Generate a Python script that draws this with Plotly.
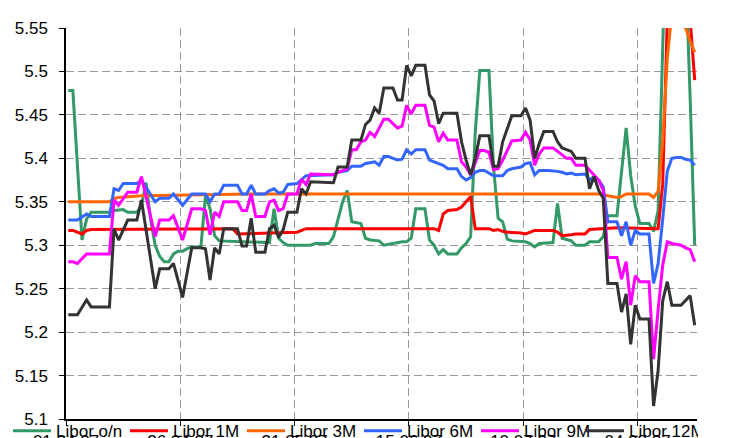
import pandas as pd
import plotly.graph_objects as go

START = pd.Timestamp("2007-04-01")

# Day offsets (days after 01.04.07) and rates in %
on_days = [0, 1, 3, 4, 5, 9, 10, 12, 13, 15, 16, 17, 18, 19, 20, 21, 22, 23, 24, 25, 26, 27, 29, 30, 31, 32, 33, 37,
           44, 45, 46, 47, 48, 53, 54, 57, 58, 59, 60, 61, 62, 64, 65, 66, 68, 69, 71, 73, 74, 75, 76, 78, 79, 80,
           81, 82, 83, 85, 86, 87, 88, 89, 90, 92, 93, 94, 95, 96, 97, 100, 101, 102, 103, 106, 107, 108, 110, 111,
           113, 114, 116, 117, 118, 120, 122, 123, 124, 125, 127, 128, 129, 130, 131, 132, 133, 134, 135, 136, 137]
on_vals = [5.478, 5.478, 5.306, 5.33, 5.338, 5.338, 5.34, 5.341, 5.338, 5.338, 5.345, 5.372, 5.33, 5.30, 5.287,
           5.281, 5.281, 5.29, 5.293, 5.293, 5.296, 5.298, 5.298, 5.357, 5.342, 5.311, 5.305, 5.304,
           5.303, 5.342, 5.308, 5.303, 5.30, 5.30, 5.302, 5.302, 5.31, 5.33, 5.35, 5.363, 5.327, 5.325, 5.308,
           5.306, 5.305, 5.30, 5.302, 5.304, 5.304, 5.308, 5.342, 5.342, 5.306, 5.30,
           5.29, 5.295, 5.29, 5.29, 5.297, 5.302, 5.31, 5.43, 5.501, 5.501, 5.39, 5.331, 5.327, 5.307, 5.305,
           5.304, 5.302, 5.298, 5.302, 5.303, 5.348, 5.308, 5.305, 5.30,
           5.30, 5.304, 5.304, 5.31, 5.334, 5.334, 5.435, 5.38, 5.345, 5.325, 5.325, 5.316, 5.34, 5.58, 5.86,
           5.90, 5.80, 5.70, 5.62, 5.47, 5.30]

m1_days = [0, 1, 3, 4, 5, 36, 37, 44, 47, 50, 52, 66, 80, 81, 82, 83, 85, 86, 87, 88, 89, 92, 93, 94, 95, 96,
           99, 100, 102, 106, 107, 108, 110, 111, 113, 114, 120, 129, 130, 131, 132, 133, 134, 135, 136, 137]
m1_vals = [5.317, 5.317, 5.313, 5.317, 5.318, 5.319, 5.313, 5.314, 5.315, 5.315, 5.319, 5.319, 5.319, 5.317,
           5.336, 5.34, 5.341, 5.344, 5.35, 5.356, 5.319, 5.319, 5.317, 5.318, 5.316, 5.315,
           5.314, 5.313, 5.317, 5.317, 5.315, 5.311, 5.312, 5.313, 5.313, 5.318, 5.32, 5.319, 5.37, 5.70, 5.75,
           5.80, 5.75, 5.65, 5.56, 5.49]

m3_days = [0, 9, 10, 11, 16, 30, 40, 116, 118, 120, 121, 122, 127, 128, 129, 130, 131, 132, 133, 134, 135,
           136, 137]
m3_vals = [5.35, 5.35, 5.354, 5.355, 5.357, 5.358, 5.359, 5.359, 5.357, 5.355, 5.356, 5.359, 5.359, 5.355,
           5.362, 5.42, 5.515, 5.58, 5.62, 5.60, 5.55, 5.535, 5.522]

m6_days = [0, 2, 4, 5, 9, 10, 11, 12, 15, 16, 19, 20, 22, 23, 25, 26, 27, 30, 31, 32, 33, 34, 37, 38, 39, 40,
           41, 43, 44, 45, 46, 47, 48, 50, 51, 52, 58, 59, 61, 62, 64, 65, 66, 67, 68, 69, 70, 72, 73, 74, 75,
           76, 78, 79, 81, 82, 83, 85, 86, 87, 88, 89, 90, 91, 93, 95, 96, 97, 99, 100, 101, 102, 103, 105,
           107, 108, 109, 110, 111, 113, 114, 115, 116, 117, 118, 120, 121, 122, 123, 124, 125, 127, 128, 129,
           130, 131, 132, 133, 134, 135, 136, 137]
m6_vals = [5.329, 5.329, 5.336, 5.333, 5.333, 5.365, 5.363, 5.371, 5.371, 5.375, 5.35, 5.354, 5.354, 5.359,
           5.346, 5.352, 5.359, 5.359, 5.35, 5.359, 5.359, 5.369, 5.369, 5.359, 5.359, 5.369,
           5.359, 5.359, 5.363, 5.365, 5.36, 5.361, 5.37, 5.371, 5.376, 5.38, 5.381, 5.384, 5.386, 5.391, 5.391,
           5.394, 5.395, 5.396, 5.392, 5.402, 5.402, 5.398, 5.399, 5.41, 5.405,
           5.41, 5.41, 5.398, 5.394, 5.392, 5.388, 5.388, 5.379, 5.375, 5.378, 5.384, 5.386, 5.386, 5.38, 5.38,
           5.386, 5.388, 5.39, 5.394, 5.395, 5.381, 5.386, 5.386,
           5.385, 5.384, 5.382, 5.383, 5.381, 5.382, 5.375, 5.379, 5.375, 5.367, 5.327, 5.327, 5.311, 5.327,
           5.30, 5.317, 5.313, 5.313, 5.256, 5.279,
           5.33, 5.385, 5.40, 5.401, 5.401, 5.399, 5.398, 5.392]

m9_days = [0, 1, 2, 4, 9, 10, 11, 13, 15, 16, 19, 20, 22, 23, 25, 27, 29, 30, 31, 32, 33, 34, 37, 38, 39, 40,
           41, 43, 44, 45, 46, 47, 48, 50, 51, 52, 53, 58, 59, 61, 62, 63, 64, 65, 66, 67, 69, 70, 71, 72, 73,
           74, 75, 76, 78, 79, 80, 81, 82, 83, 85, 86, 87, 88, 89, 90, 91, 92, 93, 94, 95, 96, 97, 99, 100, 101,
           102, 103, 104, 106, 107, 109, 110, 111, 113, 115, 116, 117, 118, 120, 121, 122, 123, 124, 125, 127,
           128, 129, 130, 131, 132, 134, 135, 136, 137]
m9_vals = [5.281, 5.281, 5.279, 5.29, 5.29, 5.352, 5.346, 5.361, 5.361, 5.379, 5.31, 5.329, 5.329, 5.334,
           5.306, 5.342, 5.342, 5.34, 5.312, 5.338, 5.333, 5.35, 5.35, 5.34, 5.34, 5.359,
           5.333, 5.333, 5.35, 5.352, 5.34, 5.342, 5.359, 5.359, 5.376, 5.37, 5.382, 5.381, 5.384, 5.388, 5.41,
           5.41, 5.419, 5.421, 5.43, 5.425, 5.445, 5.445, 5.44, 5.435, 5.437,
           5.461, 5.451, 5.461, 5.461, 5.438, 5.436, 5.419, 5.429, 5.421, 5.421, 5.396, 5.39, 5.381, 5.395,
           5.409, 5.409, 5.407, 5.387, 5.388, 5.398, 5.41, 5.42, 5.421, 5.43, 5.421,
           5.392, 5.405, 5.412, 5.412, 5.408, 5.40, 5.40, 5.392, 5.392, 5.381, 5.375, 5.363, 5.286, 5.286,
           5.261, 5.281, 5.231, 5.265, 5.258, 5.258,
           5.169, 5.226, 5.277, 5.304, 5.302, 5.30, 5.297, 5.295, 5.281]

m12_days = [0, 2, 4, 5, 9, 10, 11, 13, 15, 16, 19, 20, 22, 23, 25, 27, 29, 30, 31, 32, 33, 34, 37, 38, 39, 40,
            41, 43, 44, 45, 46, 47, 48, 50, 51, 52, 53, 58, 59, 61, 62, 64, 65, 66, 67, 68, 69, 71, 72, 73, 74,
            75, 76, 78, 79, 80, 81, 82, 85, 86, 87, 88, 89, 90, 92, 93, 94, 95, 97, 99, 100, 101, 102, 103, 104,
            106, 107, 108, 110, 111, 113, 114, 115, 116, 117, 118, 120, 121, 122, 123, 124, 125, 127, 128, 129,
            130, 131, 132, 134, 135, 136, 137]
m12_vals = [5.22, 5.22, 5.237, 5.229, 5.229, 5.319, 5.306, 5.329, 5.329, 5.352, 5.25, 5.273, 5.273, 5.279,
            5.24, 5.297, 5.297, 5.296, 5.26, 5.297, 5.29, 5.319, 5.319, 5.299, 5.299, 5.331,
            5.292, 5.292, 5.319, 5.323, 5.309, 5.318, 5.338, 5.338, 5.365, 5.359, 5.373, 5.372, 5.39, 5.39,
            5.421, 5.421, 5.439, 5.444, 5.458, 5.452, 5.481, 5.481, 5.467, 5.467, 5.507,
            5.495, 5.507, 5.507, 5.473, 5.466, 5.44, 5.452, 5.452, 5.419, 5.398, 5.381, 5.40, 5.426, 5.426,
            5.391, 5.391, 5.419, 5.449, 5.449, 5.458, 5.444, 5.40, 5.417, 5.431,
            5.431, 5.419, 5.412, 5.408, 5.40, 5.40, 5.365, 5.379, 5.363, 5.354, 5.256, 5.256, 5.223, 5.244,
            5.186, 5.231, 5.215, 5.215, 5.115, 5.156,
            5.236, 5.258, 5.231, 5.231, 5.236, 5.242, 5.208]

series = [
    ("Libor o/n", on_days, on_vals, "#339966"),
    ("Libor 1M", m1_days, m1_vals, "#FF0000"),
    ("Libor 3M", m3_days, m3_vals, "#FF6600"),
    ("Libor 6M", m6_days, m6_vals, "#3366FF"),
    ("Libor 9M", m9_days, m9_vals, "#FF00FF"),
    ("Libor 12M", m12_days, m12_vals, "#333333"),
]

y_ticks = [5.1, 5.15, 5.2, 5.25, 5.3, 5.35, 5.4, 5.45, 5.5, 5.55]
y_text = ["5.1", "5.15", "5.2", "5.25", "5.3", "5.35", "5.4", "5.45", "5.5", "5.55"]

FONT = "Liberation Sans, Arial, sans-serif"

fig = go.Figure()
for i, (name, days, vals, color) in enumerate(series):
    # Excel date axis: each daily point sits in the middle of its day
    x = [START + pd.Timedelta(days=d, hours=12) for d in days]
    fig.add_trace(go.Scatter(x=x, y=vals, mode="lines", name=name,
                             legend="legend2" if i == len(series) - 1 else "legend",
                             line=dict(color=color, width=3)))

legend_common = dict(orientation="h", xref="container", yref="container",
                     y=0.034, xanchor="left", yanchor="middle",
                     bgcolor="rgba(0,0,0,0)", font=dict(size=17),
                     itemwidth=38, entrywidth=64, entrywidthmode="pixels",
                     tracegroupgap=0)

fig.update_layout(
    width=729, height=438,
    margin=dict(l=58, r=40, t=20, b=27, autoexpand=False),
    paper_bgcolor="white", plot_bgcolor="white",
    font=dict(family=FONT, size=17, color="black"),
    legend=dict(x=0.0, **legend_common),
    legend2=dict(x=0.786, **legend_common),
    showlegend=True,
)
fig.update_xaxes(
    type="date", range=[START, START + pd.Timedelta(days=138)],
    tickmode="linear", tick0=START, dtick=25 * 86400000,
    tickformat="%d.%m.%y", automargin=False,
    showgrid=True, gridcolor="#999999", griddash="8px,4px", gridwidth=1,
    showline=True, linecolor="black", linewidth=1.5,
    ticks="outside", ticklen=5, tickcolor="black",
    ticklabelstandoff=1,
    tickfont=dict(size=17), zeroline=False,
)
fig.update_yaxes(
    range=[5.1, 5.55], tickmode="array", tickvals=y_ticks, ticktext=y_text,
    automargin=False,
    showgrid=True, gridcolor="#999999", griddash="8px,4px", gridwidth=1,
    showline=True, linecolor="black", linewidth=1.5,
    ticks="outside", ticklen=5, tickcolor="black", ticklabelstandoff=8,
    tickfont=dict(size=17), zeroline=False,
)

fig.write_html("out.html")
